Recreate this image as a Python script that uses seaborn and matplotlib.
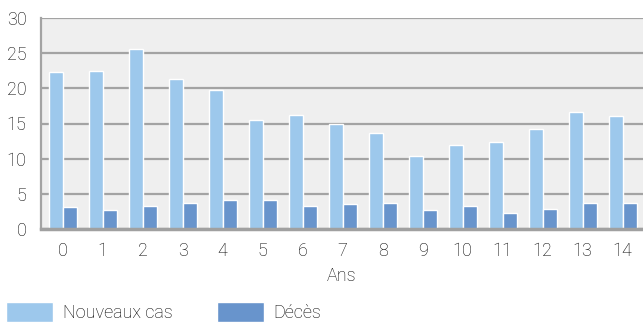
import pandas as pd
import matplotlib
matplotlib.use("Agg")
import matplotlib.pyplot as plt
import seaborn as sns

# données
ans = list(range(15))
nouveaux_cas = [22.3, 22.5, 25.6, 21.3, 19.8, 15.5, 16.2, 14.9, 13.7, 10.4,
                11.9, 12.4, 14.2, 16.6, 16.1]
deces = [3.1, 2.7, 3.3, 3.7, 4.1, 4.1, 3.3, 3.6, 3.7, 2.7,
         3.3, 2.3, 2.8, 3.7, 3.7]
series = ["Nouveaux cas", "Décès"]
couleurs = ["#9DC8EC", "#6894CC"]

df = pd.DataFrame({
    "Ans": ans * 2,
    "Valeur": nouveaux_cas + deces,
    "Serie": [series[0]] * len(ans) + [series[1]] * len(ans),
})

sns.set_theme(style="white")
plt.rcParams["font.family"] = ["Roboto", "DejaVu Sans"]
plt.rcParams["font.weight"] = "light"
plt.rcParams["axes.labelweight"] = "light"
texte = "#000000"

fig = plt.figure(figsize=(6.43, 3.23), dpi=100)
ax = fig.add_axes([41 / 643, 1 - 229 / 323, 1 - 41 / 643, (229 - 18) / 323])

sns.barplot(data=df, x="Ans", y="Valeur", hue="Serie", palette=couleurs,
            width=0.7, saturation=1, ax=ax, legend=True)

ax.set_facecolor("#EFEFEF")
ax.set_ylim(0, 30)
ax.set_yticks([0, 5, 10, 15, 20, 25, 30])
ax.set_xlim(-0.54, 14.51)
ax.grid(axis="y", color="#A3A3A3", linewidth=1.6)
ax.set_axisbelow(True)

for s in ["top", "right"]:
    ax.spines[s].set_visible(False)
ax.spines["left"].set_color("#A3A3A3")
ax.spines["left"].set_linewidth(1.6)
ax.spines["bottom"].set_color("#A0A0A0")
ax.spines["bottom"].set_linewidth(2.5)

ax.tick_params(axis="y", length=2.5, color="#A3A3A3", width=1.6, pad=8,
               labelsize=13, labelcolor=texte)
ax.tick_params(axis="x", length=0, pad=9.5, labelsize=13, labelcolor=texte)
ax.set_ylabel("")
ax.set_xlabel("Ans", fontsize=13, color=texte, labelpad=5, fontweight="light")

ax.legend_.remove()
handles, labels = ax.get_legend_handles_labels()
fig.legend(handles, labels, loc="center left", bbox_to_anchor=(6 / 643, 1 - 312 / 323),
           ncol=2, frameon=False, fontsize=13, handlelength=2.6, handleheight=1.3,
           handletextpad=0.55, columnspacing=2.45, labelcolor=texte,
           borderpad=0, borderaxespad=0)

fig.savefig("out.png", dpi=100)
